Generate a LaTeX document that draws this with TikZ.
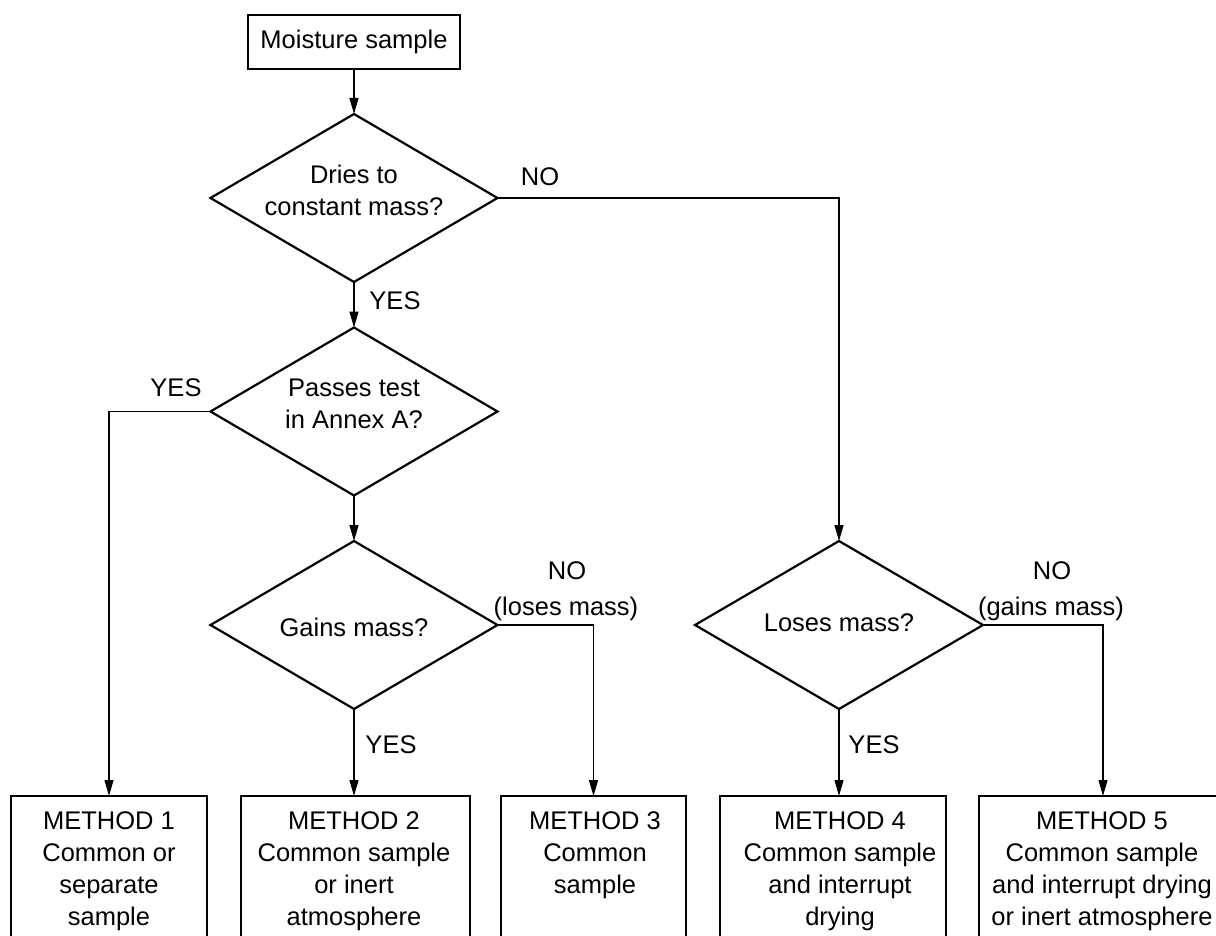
\documentclass[tikz,border=0pt]{standalone}
\usepackage{fontspec}
\setmainfont{Liberation Sans}
\usetikzlibrary{arrows.meta,shapes.geometric,calc}
\begin{document}
\begin{tikzpicture}[x=1pt,y=1pt,
  every node/.style={font=\fontsize{25.5}{32}\selectfont, inner sep=0pt, outer sep=0pt},
  shapebox/.style={draw, line width=2.2pt},
  dia/.style={diamond, draw, line width=2.2pt, minimum width=287pt, minimum height=168pt},
  conn/.style={line width=1.2pt, -{Triangle[length=16pt,width=9pt]}},
  txt/.style={align=center}]
\useasboundingbox (0,0) rectangle (1216,-936);
\fill[white] (0,0) rectangle (1216,-936);
\clip (0,0) rectangle (1216,-936);

% start box
\node[shapebox, minimum width=212pt, minimum height=54pt] (start) at (354,-42) {Moisture sample};

% diamonds
\node[dia] (d1) at (354,-198) {};
\node[dia] (d2) at (354,-411.5) {};
\node[dia] (d3) at (354,-625) {};
\node[dia, minimum width=288pt] (d4) at (839,-625) {};

\node[txt] (d1t) at (354,-190.5) {Dries to\\constant mass?};
\node[txt] (d2t) at (354,-403.5) {Passes test\\in Annex A?};
\node (d3t) at (354,-627) {Gains mass?};
\node (d4t) at (839,-623) {Loses mass?};

% method boxes
\node[shapebox, minimum width=196pt, minimum height=200pt, anchor=north] (m1) at (109,-796) {};
\node[shapebox, minimum width=229pt, minimum height=200pt, anchor=north] (m2) at (355.5,-796) {};
\node[shapebox, minimum width=185pt, minimum height=200pt, anchor=north] (m3) at (593.5,-796) {};
\node[shapebox, minimum width=226pt, minimum height=200pt, anchor=north] (m4) at (833,-796) {};
\node[shapebox, minimum width=248pt, minimum height=200pt, anchor=north] (m5) at (1103,-796) {};

\node[txt, anchor=north] (t1) at (109,-811.7) {METHOD 1\\Common or\\separate\\sample};
\node[txt, anchor=north] (t2) at (354,-811.7) {METHOD 2\\Common sample\\or inert\\atmosphere};
\node[txt, anchor=north] (t3) at (595,-811.7) {METHOD 3\\Common\\sample};
\node[txt, anchor=north] (t4) at (840,-811.7) {METHOD 4\\Common sample\\and interrupt\\drying};
\node[txt, anchor=north] (t5) at (1102,-811.7) {METHOD 5\\Common sample\\and interrupt drying\\or inert atmosphere};

% connectors
\draw[conn] (start.south) -- (d1.north);
\draw[conn] (d1.south) -- (d2.north);
\draw[conn] (d2.south) -- (d3.north);
\draw[conn] (d1.east) -| (d4.north);
\draw[conn] (d2.west) -| (m1.north);
\draw[conn] (d3.south) -- (d3.south |- m2.north);
\draw[conn] (d3.east) -| (m3.north);
\draw[conn] (d4.south) -- (d4.south |- m4.north);
\draw[conn] (d4.east) -| (m5.north);

% labels
\node (no1) at (540,-176.5) {NO};
\node (yes1) at (395,-300.5) {YES};
\node (yes2) at (176,-388) {YES};
\node (yes3) at (391,-745) {YES};
\node (yes4) at (874,-745) {YES};
\node[anchor=base] (no3) at (567,-579) {NO};
\node[anchor=base] (no3b) at (566,-615) {(loses mass)};
\node[anchor=base] (no4) at (1052,-579) {NO};
\node[anchor=base] (no4b) at (1051,-615) {(gains mass)};
\end{tikzpicture}
\end{document}
